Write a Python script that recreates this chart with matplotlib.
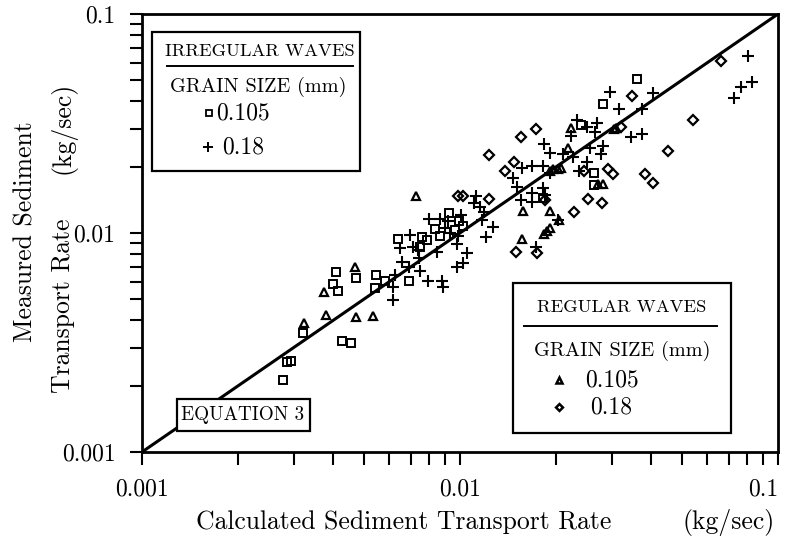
import matplotlib
matplotlib.use('Agg')
import matplotlib.pyplot as plt
from matplotlib.patches import Rectangle
from matplotlib.lines import Line2D

plt.rcParams['font.family'] = ['cmr10', 'DejaVu Serif']
plt.rcParams['axes.formatter.use_mathtext'] = True

# irregular waves, grain size 0.105 mm (squares)
irr_105_x = [0.00406, 0.00399, 0.00413, 0.00471, 0.00544, 0.00541, 0.00320, 0.00425, 0.00454,
             0.00285, 0.00294, 0.00278, 0.00925, 0.00835, 0.00865, 0.00995, 0.0102, 0.00964,
             0.00640, 0.00758, 0.00786, 0.00748, 0.00581, 0.00693, 0.0360, 0.0281, 0.0240,
             0.0263, 0.0263, 0.0183]
irr_105_y = [0.00662, 0.00585, 0.00543, 0.00623, 0.00643, 0.00561, 0.00351, 0.00322, 0.00316,
             0.00258, 0.00260, 0.00213, 0.0123, 0.0104, 0.00969, 0.0113, 0.0108, 0.0103,
             0.00936, 0.00962, 0.00929, 0.00861, 0.00604, 0.00604, 0.0504, 0.0388, 0.0311,
             0.0188, 0.0166, 0.0144]

# irregular waves, grain size 0.18 mm (pluses)
irr_18_x = [0.0807, 0.0765, 0.0826, 0.0729, 0.0296, 0.0405, 0.0316, 0.0374, 0.0345, 0.0374,
            0.0233, 0.0250, 0.0269, 0.0266, 0.0223, 0.0184, 0.0192, 0.0211, 0.0227, 0.0256,
            0.0282, 0.0277, 0.0157, 0.0168, 0.0183, 0.0192, 0.0251, 0.0236, 0.0147, 0.0151,
            0.0169, 0.0183, 0.0185, 0.0168, 0.0155, 0.0127, 0.0112, 0.0111, 0.0116, 0.0119,
            0.0117, 0.0204, 0.0121, 0.0174, 0.00801, 0.00865, 0.00919, 0.0101, 0.00897, 0.00930,
            0.00988, 0.00977, 0.00696, 0.00710, 0.00648, 0.00745, 0.00845, 0.0105, 0.00977, 0.0102,
            0.00693, 0.00748, 0.00625, 0.00617, 0.00617, 0.00794, 0.00876, 0.00886, 0.00656, 0.00739]
irr_18_y = [0.0643, 0.0466, 0.0488, 0.0415, 0.0439, 0.0437, 0.0368, 0.0367, 0.0275, 0.0282,
            0.0328, 0.0304, 0.0319, 0.0290, 0.0277, 0.0254, 0.0233, 0.0229, 0.0223, 0.0244,
            0.0250, 0.0229, 0.0199, 0.0202, 0.0202, 0.0188, 0.0210, 0.0191, 0.0178, 0.0163,
            0.0152, 0.0160, 0.0149, 0.0139, 0.0142, 0.0107, 0.0147, 0.0137, 0.0132, 0.0125,
            0.0115, 0.0115, 0.00956, 0.00866, 0.0116, 0.0116, 0.0113, 0.0121, 0.0105, 0.0100,
            0.00969, 0.00891, 0.00979, 0.00866, 0.00851, 0.00766, 0.00822, 0.00813, 0.00697, 0.00727,
            0.00702, 0.00673, 0.00643, 0.00569, 0.00494, 0.00604, 0.00604, 0.00569, 0.00739, 0.00836]

# regular waves, grain size 0.105 mm (triangles)
reg_105_x = [0.00468, 0.00373, 0.00379, 0.00323, 0.00471, 0.00533, 0.00727, 0.0158, 0.0192,
             0.0157, 0.0205, 0.0184, 0.0188, 0.0192, 0.0192, 0.0196, 0.0304, 0.0310, 0.0204,
             0.0208, 0.0223, 0.0219, 0.0272, 0.0282]
reg_105_y = [0.00700, 0.00538, 0.00422, 0.00388, 0.00413, 0.00418, 0.0148, 0.0126, 0.0126,
             0.00936, 0.0115, 0.0099, 0.0102, 0.0105, 0.0192, 0.0195, 0.0299, 0.0303, 0.0196,
             0.0198, 0.0301, 0.0244, 0.0167, 0.0167]

# regular waves, grain size 0.18 mm (diamonds)
reg_18_x = [0.0662, 0.0542, 0.0452, 0.0382, 0.0405, 0.0347, 0.0321, 0.0174, 0.0155, 0.0123,
            0.0148, 0.0139, 0.0245, 0.0291, 0.0303, 0.0123, 0.00988, 0.0102, 0.0185, 0.0253,
            0.0279, 0.0229, 0.0150, 0.0175]
reg_18_y = [0.0610, 0.0328, 0.0237, 0.0185, 0.0169, 0.0422, 0.0306, 0.0298, 0.0274, 0.0227,
            0.0212, 0.0191, 0.0192, 0.0197, 0.0185, 0.0143, 0.0148, 0.0148, 0.0142, 0.0143,
            0.0137, 0.0125, 0.00822, 0.00813]

# equation 3 (perfect agreement line)
eq_x = [0.001, 0.1]
eq_y = [0.001, 0.1]

W, H = 791, 541
fig = plt.figure(figsize=(W / 100, H / 100), dpi=100)
ax = fig.add_axes([142 / W, 1 - 452 / H, (778 - 142) / W, (452 - 14) / H])


def fx(px):
    return px / W


def fy(py):
    return 1 - py / H


ax.plot(eq_x, eq_y, color='black', lw=2.2, zorder=2)
ax.plot(irr_105_x, irr_105_y, ls='none', marker='s', ms=6, mfc='none', mec='black', mew=1.4, zorder=3)
ax.plot(irr_18_x, irr_18_y, ls='none', marker='+', ms=8, mec='black', mew=1.5, zorder=3)
ax.plot(reg_105_x, reg_105_y, ls='none', marker='^', ms=6.3, mfc='none', mec='black', mew=1.6, zorder=3)
ax.plot(reg_18_x, reg_18_y, ls='none', marker='D', ms=5, mfc='none', mec='black', mew=1.6, zorder=3)

ax.set_xscale('log')
ax.set_yscale('log')
ax.set_xlim(0.001, 0.1)
ax.set_ylim(0.001, 0.1)
ax.set_xticks([0.001, 0.01, 0.1])
ax.set_xticklabels(['0.001', '0.01', '0.1'])
ax.set_yticks([0.001, 0.01, 0.1])
ax.set_yticklabels(['0.001', '0.01', '0.1'])
ax.minorticks_on()
ax.xaxis.set_minor_formatter(matplotlib.ticker.NullFormatter())
ax.yaxis.set_minor_formatter(matplotlib.ticker.NullFormatter())
ax.tick_params(which='both', direction='out', length=9, width=1.5, top=False, right=False)
ax.tick_params(axis='x', which='major', pad=10, labelsize=17)
ax.tick_params(axis='y', which='major', pad=10, labelsize=17)
ax.get_xticklabels()[-1].set_horizontalalignment('right')
for s in ax.spines.values():
    s.set_linewidth(2)

fig.text(fx(26), fy(232), 'Measured Sediment', rotation=90, ha='center', va='center', fontsize=18.5)
fig.text(fx(63), fy(306), 'Transport Rate', rotation=90, ha='center', va='center', fontsize=18.5)
fig.text(fx(63), fy(128), '(kg/sec)', rotation=90, ha='center', va='center', fontsize=18.5)
fig.text(fx(404), fy(522), 'Calculated Sediment Transport Rate', ha='center', va='center', fontsize=18.5)
fig.text(fx(729), fy(522), '(kg/sec)', ha='center', va='center', fontsize=18.5)


def box(x0, y0, x1, y1):
    fig.patches.append(Rectangle((fx(x0), fy(y1)), fx(x1 - x0), (y1 - y0) / H,
                                 transform=fig.transFigure, fc='white', ec='black', lw=1.6, zorder=5))


def hline(x0, x1, y):
    fig.lines.append(Line2D([fx(x0), fx(x1)], [fy(y), fy(y)], transform=fig.transFigure,
                            color='black', lw=1.4, zorder=6))


def mark(px, py, m, ms, **kw):
    fig.lines.append(Line2D([fx(px)], [fy(py)], transform=fig.transFigure, ls='none', marker=m,
                            ms=ms, mec='black', zorder=6, **kw))


# irregular waves legend
box(152, 32, 360, 171)
fig.text(fx(260), fy(51), 'IRREGULAR WAVES', ha='center', va='center', fontsize=13.3, zorder=6)
hline(167, 353, 66)
fig.text(fx(258), fy(87), 'GRAIN SIZE (mm)', ha='center', va='center', fontsize=14.6, zorder=6)
mark(209, 113, 's', 4.5, mfc='none', mew=1.3)
fig.text(fx(216), fy(113), '0.105', ha='left', va='center', fontsize=17, zorder=6)
mark(208, 147, '+', 7, mew=1.4)
fig.text(fx(222), fy(147), '0.18', ha='left', va='center', fontsize=17, zorder=6)

# regular waves legend
box(513, 283, 731, 433)
fig.text(fx(622), fy(307), 'REGULAR WAVES', ha='center', va='center', fontsize=13.3, zorder=6)
hline(524, 717, 326)
fig.text(fx(622), fy(351), 'GRAIN SIZE (mm)', ha='center', va='center', fontsize=14.6, zorder=6)
mark(559, 380, '^', 4.5, mfc='none', mew=1.8)
fig.text(fx(585), fy(380), '0.105', ha='left', va='center', fontsize=17, zorder=6)
mark(559, 407, 'D', 3.5, mfc='none', mew=1.8)
fig.text(fx(590), fy(407), '0.18', ha='left', va='center', fontsize=17, zorder=6)

# equation label
box(177, 399, 310, 431)
fig.text(fx(243), fy(415), 'EQUATION 3', ha='center', va='center', fontsize=13.8, zorder=6)

fig.savefig('out.png', dpi=100)
